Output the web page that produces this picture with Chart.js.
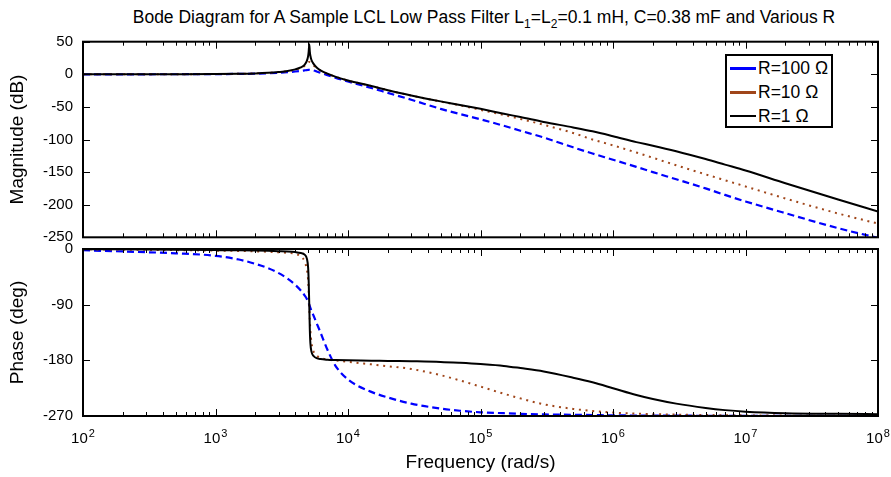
<!DOCTYPE html>
<html lang="en">

<head>
    <meta charset="UTF-8">
    <title>Bode Diagram LCL Filter</title>
    <script src="https://cdn.jsdelivr.net/npm/chart.js"></script>
    <style>
        body { margin: 0; background: #fff; overflow: hidden; }
        #wrap { position: relative; width: 891px; height: 477px; font-family: "Liberation Sans", Arial, sans-serif; color: #000; }
        #title { position: absolute; left: 484px; top: 6px; transform: translateX(-50%); white-space: nowrap; font-size: 17.5px; line-height: 22px; }
        #title sub { font-size: 12px; }
        #magChart { position: absolute; left: 0; top: 0; }
        #phaseChart { position: absolute; left: 0; top: 230px; }
        #legend { position: absolute; left: 725px; top: 54px; width: 104px; height: 70px; border: 2px solid #000; background: #fff; font-size: 17.5px; }
        #legend .row { position: absolute; left: 0; height: 20px; line-height: 20px; white-space: nowrap; }
        #legend .swatch { position: absolute; left: 3px; width: 26px; }
        #legend .txt { position: absolute; left: 31px; top: 0; }
    </style>
</head>

<body>
    <div id="wrap">
        <div id="title">Bode Diagram for A Sample LCL Low Pass Filter L<sub>1</sub>=L<sub>2</sub>=0.1 mH, C=0.38 mF and Various R</div>
        <canvas id="magChart" width="891" height="260"></canvas>
        <canvas id="phaseChart" width="891" height="247"></canvas>
        <div id="legend">
            <div class="row" style="top:2px"><span class="swatch" style="top:9px;height:3px;background:#0000ff"></span><span class="txt">R=100 Ω</span></div>
            <div class="row" style="top:26px"><span class="swatch" style="top:9px;height:3px;background:#a0461a"></span><span class="txt">R=10 Ω</span></div>
            <div class="row" style="top:50px"><span class="swatch" style="top:9px;height:2px;background:#000"></span><span class="txt">R=1 Ω</span></div>
        </div>
    </div>

    <script>
        // frequency samples (rad/s)
        const freq = [100, 200, 500, 1000, 1500, 2000, 2500, 3000, 3500, 4000, 4400, 4700, 4900, 5000, 5050, 5100, 5150, 5200, 5300, 5500, 5800, 6200, 7000, 8000,
            1e4, 1.5e4, 2e4, 3e4, 5e4, 7e4, 1e5, 1.5e5, 2e5, 3e5, 5e5, 7e5, 1e6, 1.5e6, 2e6, 3e6, 5e6, 7e6, 1e7, 2e7, 5e7, 1e8];

        // magnitude (dB)
        const magR100 = [0, 0, 0.1, 0.3, 0.6, 1, 1.6, 2.4, 3.3, 4.3, 5.2, 6, 6.5, 6.8, 6.9, 7, 7, 6.9, 6.6, 5.8, 4.4, 2.5, -1.3, -5.2,
            -11, -21, -28.5, -39, -53, -61, -69, -79, -86.5, -97, -112, -121.5, -131, -142, -150, -161, -175, -185, -195, -213, -236, -251];
        const magR10 = [0, 0.1, 0.2, 0.4, 0.8, 1.4, 2.2, 3.4, 4.8, 7, 9.8, 13, 16, 17.8, 18.6, 19, 18.8, 18.2, 16.5, 13.5, 9.8, 5.8, 0.8, -3.6,
            -9.6, -18, -24.5, -32.6, -41.8, -47.6, -54.5, -62.5, -68.5, -77.5, -90, -100, -109, -120, -128, -139.5, -153.5, -162.5, -172, -190.5, -213.5, -229];
        const magR1 = [0, 0.1, 0.2, 0.4, 0.8, 1.4, 2.3, 3.5, 5, 7.5, 10.5, 14.5, 21, 28, 35, 46, 35, 28.5, 22, 16, 10.5, 6, 1, -3.5,
            -9.5, -18, -24.5, -32.5, -41.5, -47, -53, -60.5, -65.5, -73, -81.5, -87.5, -95, -104, -109.5, -118, -130, -138.5, -147.5, -167, -192, -210.5];

        // phase (deg)
        const phaseR100 = [-2, -4, -7, -11, -17, -24, -31, -39, -48, -58, -67, -75, -81, -85, -87.5, -90, -92.5, -95, -100, -108, -120, -135, -163, -188,
            -211, -231, -240, -250, -258, -261.5, -264, -265.5, -266.5, -267.5, -268, -268.5, -269, -269.2, -269.4, -269.5, -269.6, -269.7, -269.8, -269.9, -269.9, -270];
        const phaseR10 = [-0.5, -1, -1.8, -2.6, -3.2, -3.8, -4.5, -5.2, -6.2, -8, -12, -20, -34, -50, -68, -92, -114, -132, -151, -166, -172.5, -176, -178.5, -180,
            -182.5, -186.5, -189.5, -194, -204, -212.5, -222.5, -234, -241.5, -251, -258.5, -262, -264.5, -266, -267, -267.8, -268.4, -268.8, -269, -269.4, -269.7, -269.8];
        const phaseR1 = [-0.3, -0.6, -1.2, -1.8, -2.2, -2.6, -3, -3.5, -4, -5, -6.5, -9, -16, -30, -52, -90, -130, -152, -166, -173, -176.5, -178, -179, -179.5,
            -180, -180.5, -181, -181.5, -182.5, -184, -186, -189, -192.5, -198, -208, -215.5, -225, -236, -242.5, -250, -257, -260.5, -263, -265.5, -266.5, -267];

        // axis ticks
        const xTickValues = [1e2, 1e3, 1e4, 1e5, 1e6, 1e7, 1e8];
        const xTickExponents = ["2", "3", "4", "5", "6", "7", "8"];
        const magTicks = [50, 0, -50, -100, -150, -200, -250];
        const phaseTicks = [0, -90, -180, -270];

        const FONT = "'Liberation Sans', Arial, sans-serif";

        // matlab style box with inward ticks (+ 10^n labels under the phase plot)
        const framePlugin = {
            id: "frame",
            afterDraw(chart, args, opts) {
                const { ctx, chartArea: a, scales } = chart;
                const x = scales.x, y = scales.y;
                ctx.save();
                ctx.strokeStyle = "#000";
                ctx.lineWidth = 1;
                ctx.beginPath();
                for (let e = 2; e < 8; e++) {
                    for (let m = 1; m < 10; m++) {
                        const px = Math.round(x.getPixelForValue(m * Math.pow(10, e))) + 0.5;
                        const len = m === 1 ? 7 : 4;
                        ctx.moveTo(px, a.bottom); ctx.lineTo(px, a.bottom - len);
                        ctx.moveTo(px, a.top); ctx.lineTo(px, a.top + len);
                    }
                }
                y.ticks.forEach(t => {
                    const py = Math.round(y.getPixelForValue(t.value)) + 0.5;
                    ctx.moveTo(a.left, py); ctx.lineTo(a.left + 7, py);
                    ctx.moveTo(a.right, py); ctx.lineTo(a.right - 7, py);
                });
                ctx.stroke();
                ctx.lineWidth = 2;
                ctx.strokeRect(a.left, a.top, a.right - a.left, a.bottom - a.top);

                if (opts.labels) {
                    ctx.fillStyle = "#000";
                    ctx.textBaseline = "alphabetic";
                    ctx.textAlign = "left";
                    xTickValues.forEach((v, i) => {
                        const px = x.getPixelForValue(v);
                        ctx.font = "15px " + FONT;
                        const w1 = ctx.measureText("10").width;
                        ctx.font = "11px " + FONT;
                        const w2 = ctx.measureText(xTickExponents[i]).width;
                        const start = px - (w1 + w2 + 1) / 2;
                        ctx.font = "15px " + FONT;
                        ctx.fillText("10", start, a.bottom + 27);
                        ctx.font = "11px " + FONT;
                        ctx.fillText(xTickExponents[i], start + w1 + 1, a.bottom + 21);
                    });
                }
                ctx.restore();
            }
        };

        function points(values) {
            return freq.map((f, i) => ({ x: f, y: values[i] }));
        }

        function makeDatasets(r100, r10, r1) {
            return [
                { label: "R=100 Ω", data: points(r100), borderColor: "#0000ff", borderWidth: 2.2, borderDash: [7, 4], order: 2 },
                { label: "R=10 Ω", data: points(r10), borderColor: "#a0461a", borderWidth: 2, borderDash: [2, 4.7], order: 1 },
                { label: "R=1 Ω", data: points(r1), borderColor: "#000000", borderWidth: 2, order: 0 }
            ].map(d => Object.assign(d, { pointRadius: 0, fill: false, cubicInterpolationMode: "monotone" }));
        }

        function yAxis(min, max, ticks, title) {
            return {
                min: min, max: max,
                afterBuildTicks: s => { s.ticks = ticks.map(v => ({ value: v })); },
                afterFit: s => { s.width = 83; },
                grid: { display: false, drawTicks: false, tickLength: 0 },
                border: { display: false },
                ticks: { color: "#000", font: { family: FONT, size: 15 }, padding: 10 },
                title: { display: true, text: title, color: "#000", font: { family: FONT, size: 19 }, padding: { top: 6, bottom: 0 } }
            };
        }

        new Chart(document.getElementById("magChart"), {
            type: "line",
            data: { datasets: makeDatasets(magR100, magR10, magR1) },
            options: {
                responsive: false,
                animation: false,
                events: [],
                layout: { padding: { top: 41.7, right: 13, bottom: 22.7, left: 0 } },
                plugins: { legend: { display: false }, tooltip: { enabled: false }, frame: { labels: false } },
                scales: {
                    x: { type: "logarithmic", min: 1e2, max: 1e8, display: false },
                    y: yAxis(-250, 50, magTicks, "Magnitude (dB)")
                }
            },
            plugins: [framePlugin]
        });

        new Chart(document.getElementById("phaseChart"), {
            type: "line",
            data: { datasets: makeDatasets(phaseR100, phaseR10, phaseR1) },
            options: {
                responsive: false,
                animation: false,
                events: [],
                layout: { padding: { top: 16, right: 13, bottom: 0, left: 0 } },
                plugins: { legend: { display: false }, tooltip: { enabled: false }, frame: { labels: true } },
                scales: {
                    x: {
                        type: "logarithmic", min: 1e2, max: 1e8,
                        afterFit: s => { s.height = 61; },
                        grid: { display: false, drawTicks: false, tickLength: 0 },
                        border: { display: false },
                        ticks: { display: false },
                        title: { display: true, text: "Frequency (rad/s)", color: "#000", font: { family: FONT, size: 19 }, padding: { top: 0, bottom: 3 } }
                    },
                    y: yAxis(-270, 0, phaseTicks, "Phase (deg)")
                }
            },
            plugins: [framePlugin]
        });
    </script>
</body>

</html>
